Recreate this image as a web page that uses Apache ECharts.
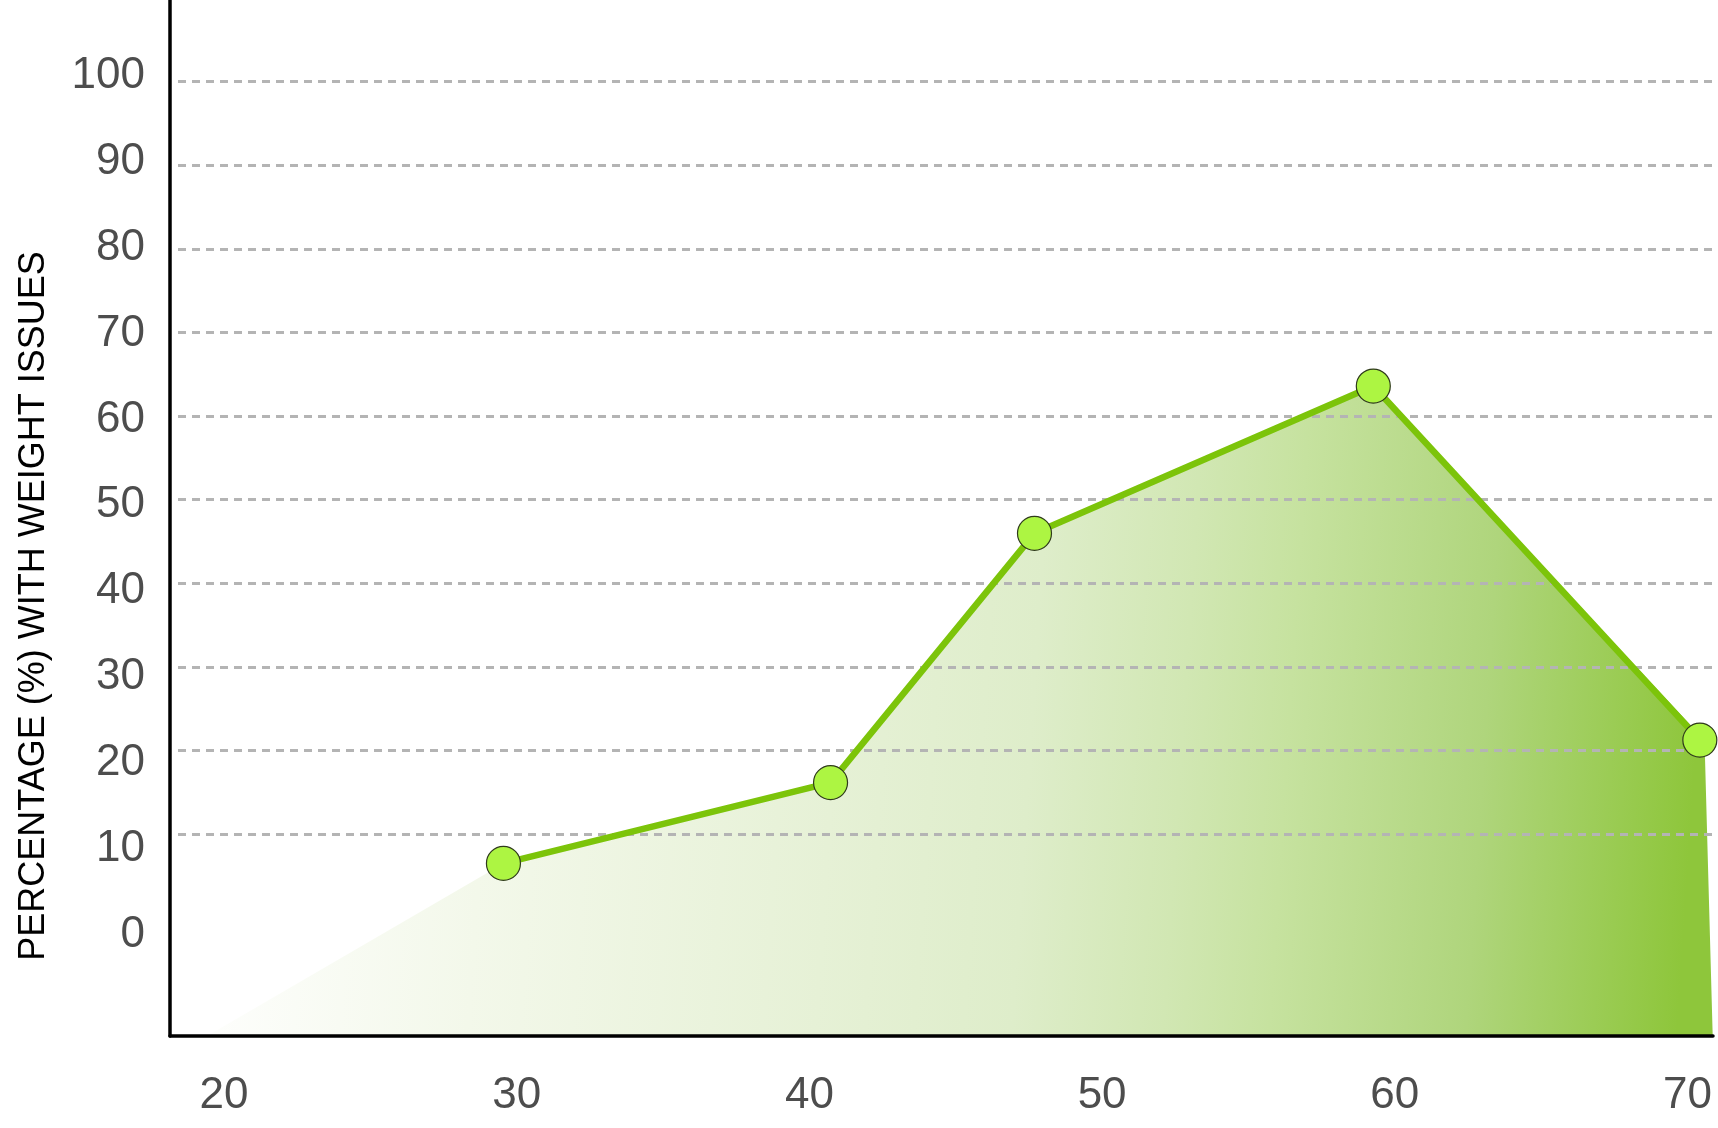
<!DOCTYPE html>
<html>
<head>
<meta charset="utf-8">
<script src="https://cdn.jsdelivr.net/npm/echarts@6/dist/echarts.min.js"></script>
<style>
  html, body { margin: 0; padding: 0; background: #ffffff; }
  #chart { width: 1718px; height: 1128px; }
</style>
</head>
<body>
<div id="chart"></div>
<script>
// ---- data ----
const ages = [29.55, 40.73, 47.70, 59.28, 70.44];          // x (age)
const pct = [6.49, 16.15, 45.97, 63.59, 21.24];            // y (% with weight issues)
// shaded region outline (starts/ends on the baseline)
const areaAges = [19.42, 29.55, 40.73, 47.70, 59.28, 70.60, 70.88];
const areaPct  = [null, 6.49, 16.15, 45.97, 63.59, 21.24, null];
// tick labels
const xTickLabels = [20, 30, 40, 50, 60, 70];
const yTickLabels = [0, 10, 20, 30, 40, 50, 60, 70, 80, 90, 100];
const gridValues = [10, 20, 30, 40, 50, 60, 70, 80, 90, 100];
const yTitle = 'PERCENTAGE (%) WITH WEIGHT ISSUES';

// data-axis extents (as in the picture)
const X_MIN = 18.154, X_MAX = 70.89;
const Y_MIN = -14.16, Y_MAX = 109.77;

const FONT = '"Liberation Sans", Arial, Helvetica, sans-serif';
const LABEL_COLOR = '#4d4d4d';

const chart = echarts.init(document.getElementById('chart'), null, { renderer: 'canvas' });

const lineData = ages.map((a, i) => [a, pct[i]]);
const areaData = areaAges.map((a, i) => [a, areaPct[i] === null ? Y_MIN : areaPct[i]]);

const option = {
  animation: false,
  backgroundColor: '#ffffff',
  grid: [
    { left: 170, right: 5, top: 0, bottom: 92 },          // 0: data
    { left: 170, right: 5, top: 75.7, bottom: 193 },      // 1: y tick labels
    { left: 224, right: 30.5, top: 0, bottom: 92 },       // 2: x tick labels
    { left: 178, right: 0, top: 81.7, bottom: 294 }       // 3: dashed gridlines
  ],
  xAxis: [
    {
      gridIndex: 0, type: 'value', min: X_MIN, max: X_MAX,
      axisLine: { show: true, onZero: false, lineStyle: { color: '#000', width: 3.5 } },
      axisTick: { show: false }, axisLabel: { show: false }, splitLine: { show: false }, z: 5
    },
    { gridIndex: 1, type: 'value', min: 0, max: 1, show: false },
    {
      gridIndex: 2, type: 'value',
      min: xTickLabels[0], max: xTickLabels[xTickLabels.length - 1],
      interval: xTickLabels[1] - xTickLabels[0],
      axisLine: { show: false }, axisTick: { show: false }, splitLine: { show: false },
      axisLabel: {
        show: true, margin: 38, fontSize: 44, color: LABEL_COLOR, fontFamily: FONT,
        showMinLabel: true, showMaxLabel: true
      }
    },
    { gridIndex: 3, type: 'value', min: 0, max: 1, show: false }
  ],
  yAxis: [
    {
      gridIndex: 0, type: 'value', min: Y_MIN, max: Y_MAX,
      axisLine: { show: true, onZero: false, lineStyle: { color: '#000', width: 3.5 } },
      axisTick: { show: false }, axisLabel: { show: false }, splitLine: { show: false }, z: 5
    },
    {
      gridIndex: 1, type: 'value',
      min: yTickLabels[0], max: yTickLabels[yTickLabels.length - 1],
      interval: yTickLabels[1] - yTickLabels[0],
      axisLine: { show: false }, axisTick: { show: false }, splitLine: { show: false },
      axisLabel: {
        show: true, margin: 25, fontSize: 44, color: LABEL_COLOR, fontFamily: FONT,
        showMinLabel: true, showMaxLabel: true
      }
    },
    { gridIndex: 2, type: 'value', min: 0, max: 1, show: false },
    {
      gridIndex: 3, type: 'value',
      min: gridValues[0], max: gridValues[gridValues.length - 1],
      interval: gridValues[1] - gridValues[0],
      axisLine: { show: false }, axisTick: { show: false }, axisLabel: { show: false },
      splitLine: { show: true, lineStyle: { color: '#b4b4b4', width: 3, type: [8, 6] } },
      z: 3
    }
  ],
  series: [
    {
      type: 'line', xAxisIndex: 0, yAxisIndex: 0, data: areaData,
      showSymbol: false, symbol: 'none', silent: true, z: 1,
      lineStyle: { width: 0, opacity: 0 },
      areaStyle: {
        origin: 'start', opacity: 1,
        color: new echarts.graphic.LinearGradient(0, 0, 1, 0.15, [
          { offset: 0.00, color: '#ffffff' },
          { offset: 0.20, color: '#f3f8ea' },
          { offset: 0.43, color: '#e6f1d6' },
          { offset: 0.56, color: '#deedca' },
          { offset: 0.66, color: '#d1e7b3' },
          { offset: 0.73, color: '#c6e29f' },
          { offset: 0.86, color: '#afd57c' },
          { offset: 1.00, color: '#8ec63b' }
        ])
      }
    },
    {
      type: 'line', xAxisIndex: 0, yAxisIndex: 0, data: lineData, z: 6,
      symbol: 'circle', symbolSize: 34, showSymbol: true,
      lineStyle: { color: '#7cc40a', width: 6.5 },
      itemStyle: { color: '#adf542', borderColor: '#2f3a1c', borderWidth: 1.2 }
    }
  ],
  graphic: [
    {
      type: 'text', x: 34, y: 606, rotation: Math.PI / 2, z: 10,
      style: {
        text: yTitle, fill: '#000000', font: '36px ' + FONT,
        align: 'center', verticalAlign: 'middle',
        textAlign: 'center', textVerticalAlign: 'middle'
      }
    }
  ]
};

chart.setOption(option);
</script>
</body>
</html>
